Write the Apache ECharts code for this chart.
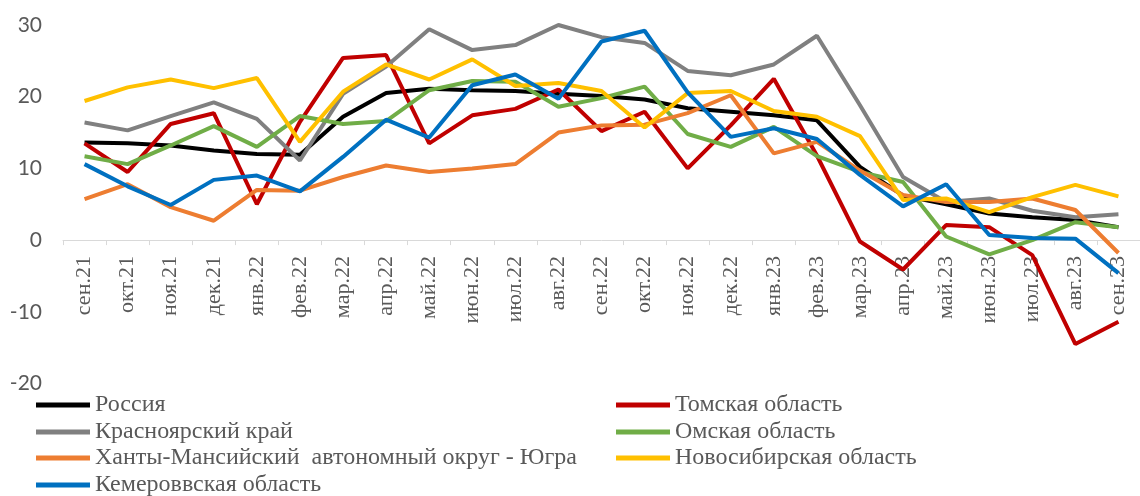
<!DOCTYPE html>
<html>
<head>
<meta charset="utf-8">
<title>Chart</title>
<script src="https://cdn.jsdelivr.net/npm/echarts@6/dist/echarts.min.js"></script>
<style>
  html, body { margin: 0; padding: 0; background: #fff; }
  #chart { width: 1140px; height: 496px; }
</style>
</head>
<body>
<div id="chart"></div>
<script>
// categories (months)
var months = ['сен.21', 'окт.21', 'ноя.21', 'дек.21', 'янв.22', 'фев.22', 'мар.22', 'апр.22', 'май.22',
  'июн.22', 'июл.22', 'авг.22', 'сен.22', 'окт.22', 'ноя.22', 'дек.22', 'янв.23', 'фев.23', 'мар.23',
  'апр.23', 'май.23', 'июн.23', 'июл.23', 'авг.23', 'сен.23']

var russia = [13.6, 13.5, 13.2, 12.5, 12.0, 11.9, 17.2, 20.5, 21.1, 20.9, 20.8, 20.4, 20.1, 19.6, 18.4,
  17.9, 17.4, 16.7, 10.2, 6.2, 5.0, 3.7, 3.2, 2.8, 1.8]
var tomsk = [13.5, 9.5, 16.2, 17.7, 5.0, 16.5, 25.4, 25.8, 13.5, 17.4, 18.3, 21.0, 15.2, 17.9, 10.0,
  16.0, 22.5, 11.8, -0.2, -4.1, 2.1, 1.8, -2.1, -14.5, -11.4]
var krasnoyarsk = [16.4, 15.3, 17.3, 19.2, 16.9, 11.1, 20.4, 24.2, 29.4, 26.5, 27.2, 30.0, 28.3, 27.5, 23.6,
  23.0, 24.5, 28.5, 18.8, 8.8, 5.3, 5.8, 4.1, 3.2, 3.6]
var omsk = [11.7, 10.6, 13.2, 15.9, 13.0, 17.3, 16.2, 16.6, 20.9, 22.2, 22.1, 18.6, 19.8, 21.4, 14.8,
  13.0, 15.8, 11.7, 9.5, 8.1, 0.5, -2.0, 0.0, 2.5, 1.8]
var khanty = [5.7, 7.8, 4.6, 2.7, 7.0, 6.9, 8.8, 10.4, 9.5, 10.0, 10.6, 15.0, 16.0, 16.1, 17.7,
  20.2, 12.1, 13.7, 9.7, 6.3, 5.3, 5.3, 5.8, 4.2, -1.8]
var novosibirsk = [19.4, 21.3, 22.4, 21.2, 22.6, 13.7, 20.7, 24.5, 22.4, 25.2, 21.5, 21.9, 20.8, 15.7, 20.5,
  20.8, 18.0, 17.2, 14.5, 5.6, 5.8, 3.9, 6.0, 7.7, 6.1]
var kemerovo = [10.6, 7.5, 4.9, 8.4, 9.0, 6.8, 11.6, 16.8, 14.3, 21.6, 23.1, 19.7, 27.7, 29.2, 20.6,
  14.4, 15.6, 14.1, 9.1, 4.7, 7.8, 0.7, 0.3, 0.2, -4.6]

var yTicks = [-20, -10, 0, 10, 20, 30]

var serif = '"Liberation Serif", "Times New Roman", serif'
var chart = echarts.init(document.getElementById('chart'), null, { renderer: 'canvas' })

function line(name, data, color) {
  return {
    name: name,
    type: 'line',
    data: data,
    symbol: 'none',
    smooth: false,
    lineStyle: { color: color, width: 4 },
    itemStyle: { color: color },
    animation: false
  }
}

// one legend per entry, laid out in two columns like the original
function legendItem(name, left, centerY) {
  return {
    data: [name],
    left: left,
    top: centerY - 12,
    padding: 0,
    icon: 'rect',
    itemWidth: 54,
    itemHeight: 5,
    textStyle: {
      fontFamily: serif,
      fontSize: 24,
      color: '#595959',
      lineHeight: 24
    }
  }
}

var grid = { left: 63, top: 25, width: 1088, height: 358.5 }

chart.setOption({
  animation: false,
  grid: grid,
  legend: [
    legendItem('Россия', 36, 405),
    legendItem('Томская область', 616, 405),
    legendItem('Красноярский край', 36, 432),
    legendItem('Омская область', 616, 432),
    legendItem('Ханты-Мансийский  автономный округ - Югра', 36, 458),
    legendItem('Новосибирская область', 616, 458),
    legendItem('Кемероввская область', 36, 485)
  ],
  xAxis: {
    type: 'category',
    data: months,
    boundaryGap: true,
    offset: -143.4,
    axisLine: { onZero: false, lineStyle: { color: '#d9d9d9', width: 1 } },
    axisTick: { show: true, length: 5, lineStyle: { color: '#d9d9d9' } },
    axisLabel: {
      rotate: 90,
      interval: 0,
      margin: 16,
      fontFamily: serif,
      fontSize: 22,
      color: '#595959'
    },
    splitLine: { show: false }
  },
  yAxis: {
    type: 'value',
    min: yTicks[0],
    max: yTicks[yTicks.length - 1],
    interval: 10,
    axisLine: { show: false },
    axisTick: { show: false },
    splitLine: { show: false },
    axisLabel: {
      margin: 21,
      fontFamily: 'Lato, "Open Sans", sans-serif',
      fontSize: 21,
      color: '#595959'
    }
  },
  series: [
    line('Россия', russia, '#000000'),
    line('Томская область', tomsk, '#c00000'),
    line('Красноярский край', krasnoyarsk, '#808080'),
    line('Омская область', omsk, '#70ad47'),
    line('Ханты-Мансийский  автономный округ - Югра', khanty, '#ed7d31'),
    line('Новосибирская область', novosibirsk, '#ffc000'),
    line('Кемероввская область', kemerovo, '#0070c0')
  ]
})
</script>
</body>
</html>
